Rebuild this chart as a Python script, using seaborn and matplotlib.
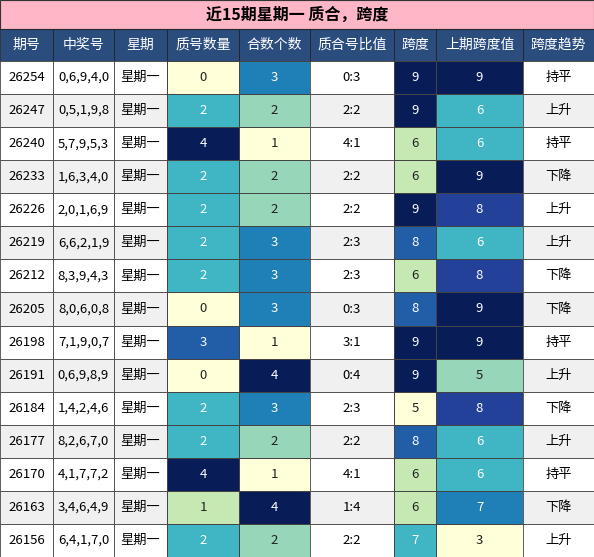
import numpy as np
import pandas as pd
import matplotlib
matplotlib.use("Agg")
import matplotlib.pyplot as plt
import seaborn as sns

plt.rcParams['font.family'] = ['Noto Sans CJK SC', 'DejaVu Sans']

title = "近15期星期一 质合，跨度"
headers = ["期号", "中奖号", "星期", "质号数量", "合数个数", "质合号比值", "跨度", "上期跨度值", "跨度趋势"]
issues = ["26254", "26247", "26240", "26233", "26226", "26219", "26212", "26205",
          "26198", "26191", "26184", "26177", "26170", "26163", "26156"]
numbers = ["0,6,9,4,0", "0,5,1,9,8", "5,7,9,5,3", "1,6,3,4,0", "2,0,1,6,9", "6,6,2,1,9",
           "8,3,9,4,3", "8,0,6,0,8", "7,1,9,0,7", "0,6,9,8,9", "1,4,2,4,6", "8,2,6,7,0",
           "4,1,7,7,2", "3,4,6,4,9", "6,4,1,7,0"]
weekday = ["星期一"] * 15
prime_cnt = [0, 2, 4, 2, 2, 2, 2, 0, 3, 0, 2, 2, 4, 1, 2]
comp_cnt = [3, 2, 1, 2, 2, 3, 3, 3, 1, 4, 3, 2, 1, 4, 2]
ratio = ["0:3", "2:2", "4:1", "2:2", "2:2", "2:3", "2:3", "0:3", "3:1", "0:4", "2:3", "2:2", "4:1", "1:4", "2:2"]
span = [9, 9, 6, 6, 9, 8, 6, 8, 9, 9, 5, 8, 6, 6, 7]
prev_span = [9, 6, 6, 9, 8, 6, 8, 9, 9, 5, 8, 6, 6, 7, 3]
trend = ["持平", "上升", "持平", "下降", "上升", "上升", "下降", "下降", "持平", "上升", "下降", "上升", "持平", "下降", "上升"]

W, H = 594, 557
col_x = [0, 53, 114, 167, 239, 310, 394, 436, 523, 594]
title_h, head_h = 29, 32
row_h = (H - title_h - head_h) / 15

fig = plt.figure(figsize=(W / 100, H / 100), dpi=100)
ax = fig.add_axes([0, 0, 1, 1])
ax.set_xlim(0, W)
ax.set_ylim(H, 0)
ax.axis("off")

ax.add_patch(plt.Rectangle((0, 0), W, title_h, facecolor="#ffb6c6", edgecolor="#333333", lw=0.8))
ax.text(W / 2, title_h / 2, title, ha="center", va="center", fontsize=11.5, fontweight="bold")
for i, h in enumerate(headers):
    x0, x1 = col_x[i], col_x[i + 1]
    ax.add_patch(plt.Rectangle((x0, title_h), x1 - x0, head_h, facecolor="#2b4d7e", edgecolor="#222222", lw=0.6))
    ax.text((x0 + x1) / 2, title_h + head_h / 2, h, ha="center", va="center", color="white", fontsize=10)

text_cols = {0: issues, 1: numbers, 2: weekday, 5: ratio, 8: trend}
for r in range(15):
    y0 = title_h + head_h + r * row_h
    bg = "#ffffff" if r % 2 == 0 else "#f0f0f0"
    for c, vals in text_cols.items():
        x0, x1 = col_x[c], col_x[c + 1]
        ax.add_patch(plt.Rectangle((x0, y0), x1 - x0, row_h, facecolor=bg, edgecolor="#444444", lw=0.6))
        ax.text((x0 + x1) / 2, y0 + row_h / 2, vals[r], ha="center", va="center", fontsize=9.5)

heat_cols = {3: (prime_cnt, 0, 4), 4: (comp_cnt, 1, 4), 6: (span, 5, 9), 7: (prev_span, 3, 9)}
top = title_h + head_h
for c, (vals, lo, hi) in heat_cols.items():
    x0, x1 = col_x[c], col_x[c + 1]
    hax = fig.add_axes([x0 / W, 0, (x1 - x0) / W, (H - top) / H])
    df = pd.DataFrame({"v": vals})
    sns.heatmap(df, ax=hax, cmap="YlGnBu", vmin=lo, vmax=hi, cbar=False, annot=False,
                linewidths=0.6, linecolor="#444444", xticklabels=False, yticklabels=False)
    for r, v in enumerate(vals):
        col = "white" if (v - lo) / (hi - lo) >= 0.5 else "#222222"
        hax.text(0.5, r + 0.5, str(v), ha="center", va="center", color=col, fontsize=9.5)

fig.savefig("out.png", dpi=100)
